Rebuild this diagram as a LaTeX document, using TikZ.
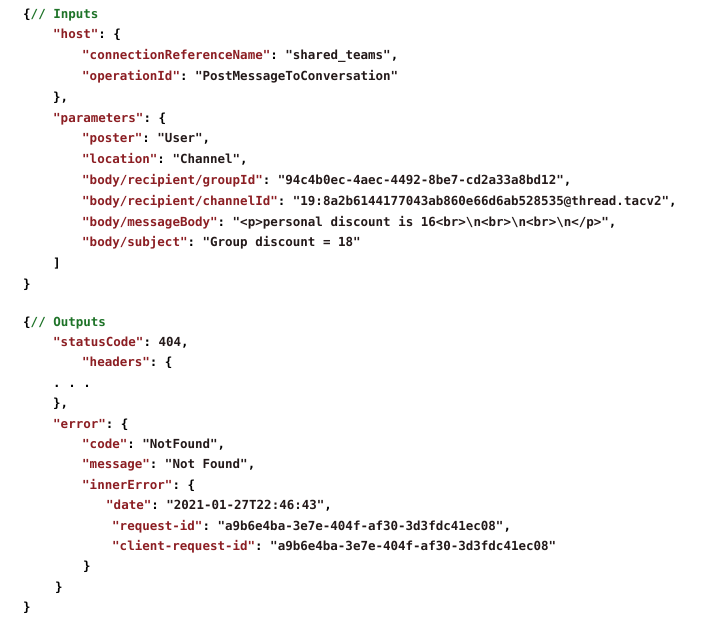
\documentclass[tikz,border=0pt]{standalone}
\usepackage{fontspec}
\setmonofont{DejaVu Sans Mono}
\usetikzlibrary{positioning}
\definecolor{keyred}{RGB}{140,30,35}
\definecolor{valdark}{RGB}{35,25,25}
\definecolor{cmtgreen}{RGB}{30,115,40}
\newcommand{\jkey}[1]{\textcolor{keyred}{"#1"}}
\newcommand{\jval}[1]{\textcolor{valdark}{"#1"}}
\newcommand{\jcmt}[1]{\textcolor{cmtgreen}{// #1}}

\begin{document}
\begin{tikzpicture}[x=1pt, y=1pt,
    codeline/.style={anchor=base west, inner sep=0pt, font=\ttfamily\bfseries\fontsize{12.5}{14}\selectfont}]
    \fill[white] (0,0) rectangle (702,-624);
    \useasboundingbox (0,0) rectangle (702,-624);

    \node[codeline] (inOpen) at (23,-18) {\{\jcmt{Inputs}};
    \node[codeline] (host) at (53,-38.8) {\jkey{host}: \{};
    \node[codeline] (connRef) at (82,-59.6) {\jkey{connectionReferenceName}: \jval{shared\_teams},};
    \node[codeline] (opId) at (82,-80.4) {\jkey{operationId}: \jval{PostMessageToConversation}};
    \node[codeline] (hostClose) at (53,-101.2) {\},};
    \node[codeline] (params) at (53,-122) {\jkey{parameters}: \{};
    \node[codeline] (poster) at (82,-142.8) {\jkey{poster}: \jval{User},};
    \node[codeline] (location) at (82,-163.6) {\jkey{location}: \jval{Channel},};
    \node[codeline] (groupId) at (82,-184.4) {\jkey{body/recipient/groupId}: \jval{94c4b0ec-4aec-4492-8be7-cd2a33a8bd12},};
    \node[codeline] (channelId) at (82,-205.2) {\jkey{body/recipient/channelId}: \jval{19:8a2b6144177043ab860e66d6ab528535@thread.tacv2},};
    \node[codeline] (msgBody) at (82,-226) {\jkey{body/messageBody}: \jval{<p>personal discount is 16<br>\textbackslash{}n<br>\textbackslash{}n<br>\textbackslash{}n</p>},};
    \node[codeline] (subject) at (82,-246.8) {\jkey{body/subject}: \jval{Group discount = 18}};
    \node[codeline] (paramsClose) at (53,-267.6) {]};
    \node[codeline] (inClose) at (23,-288.4) {\}};

    \node[codeline] (outOpen) at (23,-326) {\{\jcmt{Outputs}};
    \node[codeline] (status) at (53,-346.4) {\jkey{statusCode}: \textcolor{valdark}{404},};
    \node[codeline] (headers) at (82,-366.8) {\jkey{headers}: \{};
    \node[codeline] (dots) at (53,-387.2) {. . .};
    \node[codeline] (headersClose) at (53,-407.6) {\},};
    \node[codeline] (error) at (53,-428) {\jkey{error}: \{};
    \node[codeline] (code) at (82,-448.4) {\jkey{code}: \jval{NotFound},};
    \node[codeline] (message) at (82,-468.8) {\jkey{message}: \jval{Not Found},};
    \node[codeline] (inner) at (82,-489.2) {\jkey{innerError}: \{};
    \node[codeline] (date) at (106,-509.6) {\jkey{date}: \jval{2021-01-27T22:46:43},};
    \node[codeline] (reqId) at (112,-530) {\jkey{request-id}: \jval{a9b6e4ba-3e7e-404f-af30-3d3fdc41ec08},};
    \node[codeline] (clientId) at (112,-550.4) {\jkey{client-request-id}: \jval{a9b6e4ba-3e7e-404f-af30-3d3fdc41ec08}};
    \node[codeline] (innerClose) at (83,-570.8) {\}};
    \node[codeline] (errorClose) at (55,-591.2) {\}};
    \node[codeline] (outClose) at (23,-611.6) {\}};
\end{tikzpicture}
\end{document}
